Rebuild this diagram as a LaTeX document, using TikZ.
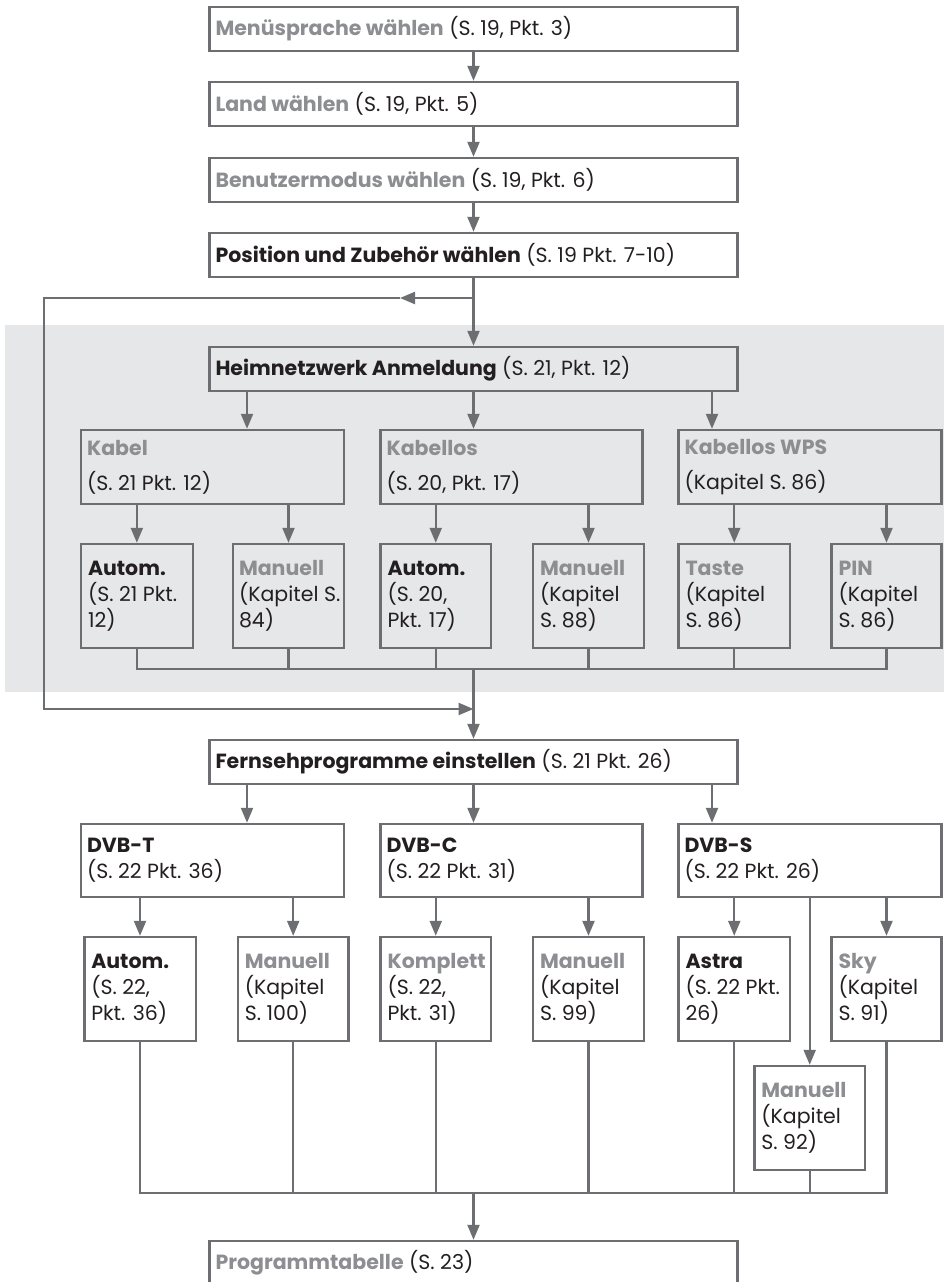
\documentclass[tikz,border=0pt]{standalone}
\usepackage{fontspec}
\setmainfont{Poppins}
\usetikzlibrary{arrows.meta}
\definecolor{linegray}{HTML}{6D6E71}
\definecolor{txtgray}{HTML}{8D8E91}
\definecolor{txtdark}{HTML}{231F20}
\definecolor{bggray}{HTML}{E6E7E8}
\newcommand\gbf[1]{{\bfseries\color{txtgray}#1}}
\newcommand\kbf[1]{{\bfseries\color{txtdark}#1}}
\newcommand\mybox[7]{%
  \pgfmathsetmacro\bw{#4-#2}\pgfmathsetmacro\bh{#5-#3}%
  \node[box, minimum width=\bw pt, minimum height=\bh pt] (#1) at ({(#2+#4)/2},{(#3+#5)/2}) {};
  \node[lbl] (#1t) at ([xshift=#6pt]#1.west) {#7};}
\begin{document}
\begin{tikzpicture}[x=1pt,y=-1pt,
  box/.style={draw=linegray, line width=2.4pt, inner sep=0pt},
  lbl/.style={anchor=west, align=left, inner sep=0pt, text=txtdark, font=\fontsize{20.5}{26}\selectfont},
  conn/.style={draw=linegray, line width=2.2pt},
  arr/.style={conn, -{Triangle[length=15pt,width=12pt]}}]
\useasboundingbox (0,0) rectangle (944,1282);
\clip (0,0) rectangle (944,1282);
\fill[bggray] (5,325) rectangle (944,692);
% top chain
\mybox{b1}{209.5}{7}{737.5}{51}{7}{\gbf{Menüsprache wählen} (S. 19, Pkt. 3)}
\mybox{b2}{209.5}{82}{737.5}{126}{7}{\gbf{Land wählen} (S. 19, Pkt. 5)}
\mybox{b3}{209.5}{158}{737.5}{202}{7}{\gbf{Benutzermodus wählen} (S. 19, Pkt. 6)}
\mybox{b4}{209.5}{233}{737.5}{277}{7}{\kbf{Position und Zubehör wählen} (S. 19 Pkt. 7-10)}
\mybox{hn}{209.5}{347}{737.5}{391}{7}{\kbf{Heimnetzwerk Anmeldung} (S. 21, Pkt. 12)}
% network row
\mybox{kabel}{81}{430}{344}{504}{7}{\gbf{Kabel}\\[9pt](S. 21 Pkt. 12)}
\mybox{kabellos}{380.5}{430}{642.4}{504}{7}{\gbf{Kabellos}\\[9pt](S. 20, Pkt. 17)}
\mybox{wps}{678.5}{430}{941.5}{504}{7}{\gbf{Kabellos WPS}\\[9pt](Kapitel S. 86)}
\mybox{a1}{81}{544}{192.7}{648}{8}{\kbf{Autom.}\\(S. 21 Pkt.\\12)}
\mybox{m1}{233}{544}{344}{648}{7}{\gbf{Manuell}\\(Kapitel S.\\84)}
\mybox{a2}{380.5}{544}{491}{648}{8}{\kbf{Autom.}\\(S. 20,\\Pkt. 17)}
\mybox{m2}{533}{544}{644}{648}{8}{\gbf{Manuell}\\(Kapitel\\S. 88)}
\mybox{ta}{678.5}{544}{790}{648}{8}{\gbf{Taste}\\(Kapitel\\S. 86)}
\mybox{pin}{831.5}{544}{941.5}{648}{8}{\gbf{PIN}\\(Kapitel\\S. 86)}
% tv
\mybox{fs}{209.5}{740}{737.5}{784}{7}{\kbf{Fernsehprogramme einstellen} (S. 21 Pkt. 26)}
\mybox{dvbt}{81}{824}{344}{897}{7}{\kbf{DVB-T}\\(S. 22 Pkt. 36)}
\mybox{dvbc}{380.5}{824}{642.4}{897}{7}{\kbf{DVB-C}\\(S. 22 Pkt. 31)}
\mybox{dvbs}{678.5}{824}{941.5}{897}{7}{\kbf{DVB-S}\\(S. 22 Pkt. 26)}
\mybox{t1}{84.3}{937}{195.7}{1041}{8}{\kbf{Autom.}\\(S. 22,\\Pkt. 36)}
\mybox{t2}{237.8}{937}{348.6}{1041}{8}{\gbf{Manuell}\\(Kapitel\\S. 100)}
\mybox{c1}{380.5}{937}{491}{1041}{8}{\gbf{Komplett}\\(S. 22,\\Pkt. 31)}
\mybox{c2}{533}{937}{644}{1041}{8}{\gbf{Manuell}\\(Kapitel\\S. 99)}
\mybox{astra}{678.5}{937}{790}{1041}{8}{\kbf{Astra}\\(S. 22 Pkt.\\26)}
\mybox{sky}{831.5}{937}{941.5}{1041}{8}{\gbf{Sky}\\(Kapitel\\S. 91)}
\mybox{man}{754.4}{1066}{865}{1170}{8}{\gbf{Manuell}\\(Kapitel\\S. 92)}
\mybox{prog}{209.5}{1241}{737.5}{1285}{7}{\gbf{Programmtabelle} (S. 23)}
% coordinates
\coordinate (ca) at (247,0);
\coordinate (cb) at (712,0);
\coordinate (lp1) at (473.5,298);
\coordinate (lpm) at (400,298);
\coordinate (lpa) at (44,298);
\coordinate (lpb) at (44,709);
\coordinate (lp2) at (473.5,709);
\coordinate (bus1) at (473.5,669);
\coordinate (bus2) at (473.5,1193.3);
% connectors
\draw[arr] (b1) -- (b2);
\draw[arr] (b2) -- (b3);
\draw[arr] (b3) -- (b4);
\draw[arr] (b4) -- (hn);
\draw[arr] (lp1) -- (lpm);
\draw[arr] (lpm) -- (lpa) -- (lpb) -- (lp2);
\draw[arr] (hn.south -| ca) -- (kabel.north -| ca);
\draw[arr] (hn.south) -- (hn.south |- kabellos.north);
\draw[arr] (hn.south -| cb) -- (wps.north -| cb);
\draw[arr] (kabel.south -| a1.north) -- (a1.north);
\draw[arr] (kabel.south -| m1.north) -- (m1.north);
\draw[arr] (kabellos.south -| a2.north) -- (a2.north);
\draw[arr] (kabellos.south -| m2.north) -- (m2.north);
\draw[arr] (wps.south -| ta.north) -- (ta.north);
\draw[arr] (wps.south -| pin.north) -- (pin.north);
\foreach \n in {a1,m1,a2,m2,ta,pin} \draw[conn] (\n.south) |- (bus1);
\draw[arr] (bus1) -- (fs.north);
\draw[arr] (fs.south -| ca) -- (dvbt.north -| ca);
\draw[arr] (fs.south) -- (fs.south |- dvbc.north);
\draw[arr] (fs.south -| cb) -- (dvbs.north -| cb);
\draw[arr] (dvbt.south -| t1.north) -- (t1.north);
\draw[arr] (dvbt.south -| t2.north) -- (t2.north);
\draw[arr] (dvbc.south -| c1.north) -- (c1.north);
\draw[arr] (dvbc.south -| c2.north) -- (c2.north);
\draw[arr] (dvbs.south -| astra.north) -- (astra.north);
\draw[arr] (dvbs.south -| sky.north) -- (sky.north);
\draw[arr] (dvbs.south -| man.north) -- (man.north);
\foreach \n in {t1,t2,c1,c2,astra,sky,man} \draw[conn] (\n.south) |- (bus2);
\draw[arr] (bus2) -- (prog.north);
\end{tikzpicture}
\end{document}
